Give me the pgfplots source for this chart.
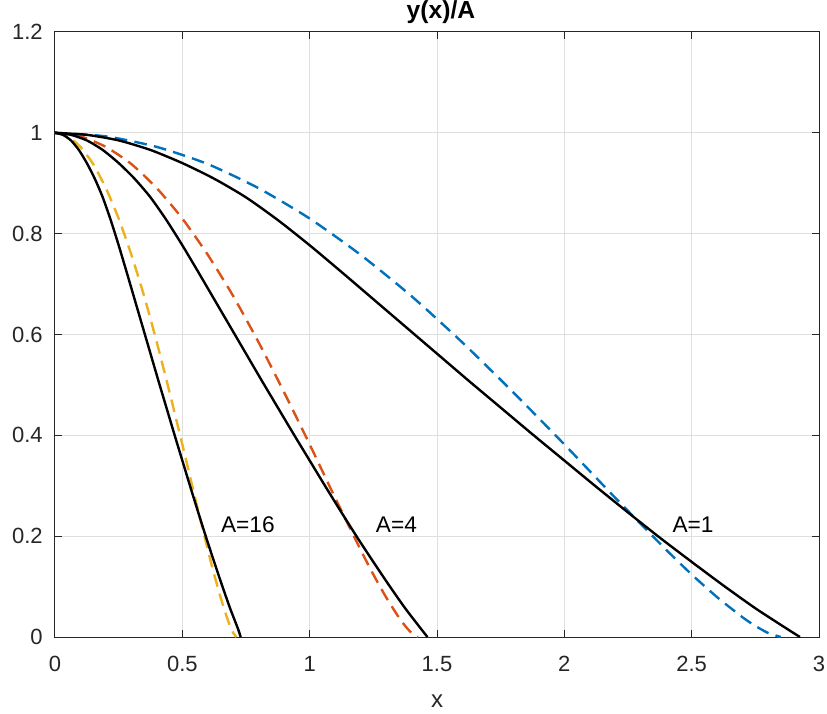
\documentclass[border=0pt]{standalone}
\usepackage{pgfplots}
\pgfplotsset{compat=1.18}
\usepackage{fontspec}
\setmainfont{Liberation Sans}
\definecolor{mblue}{RGB}{0,114,189}
\definecolor{mred}{RGB}{217,83,25}
\definecolor{myellow}{RGB}{237,177,32}
\definecolor{axgray}{RGB}{38,38,38}
\definecolor{gridgray}{RGB}{223,223,223}
\begin{document}
\begin{tikzpicture}
\begin{axis}[
  scale only axis, width=573pt, height=453.75pt,
  xmin=0, xmax=3, ymin=0, ymax=1.2,
  xtick={0,0.5,1,1.5,2,2.5,3}, ytick={0,0.2,0.4,0.6,0.8,1,1.2},
  xticklabels={0,0.5,1,1.5,2,2.5,3},
  yticklabels={0,0.2,0.4,0.6,0.8,1,1.2},
  /pgf/number format/assume math mode=true,
  grid=major, major grid style={gridgray, line width=0.75pt},
  axis line style={axgray, line width=0.75pt},
  tick style={axgray, line width=0.75pt},
  major tick length=5.5pt,
  tick align=inside,
  ticklabel style={font=\fontsize{16.5}{19}\selectfont, text=axgray},
  xticklabel style={anchor=north, inner sep=0pt, yshift=-14.25pt},
  yticklabel style={anchor=east, inner sep=0pt, xshift=-9pt},
  xlabel={x},
  xlabel style={at={(axis description cs:0.5,0)}, anchor=base, inner sep=0pt, yshift=-52.5pt, font=\fontsize{18}{21}\selectfont, text=axgray},
  title={\textbf{y(x)/A}},
  title style={at={(axis description cs:0.5,1)}, anchor=base, inner sep=0pt, yshift=3.8pt, xshift=3pt, font=\fontsize{18.5}{21}\selectfont, text=black},
  clip=true,
]
% dashed reference curves
\addplot[mblue, line width=1.8pt, dash pattern=on 9.5pt off 5.5pt, smooth, tension=0.4] coordinates {
(0,1) (0.2,0.993) (0.4,0.972) (0.6,0.938) (0.8,0.890) (1.0,0.830) (1.2,0.758) (1.4,0.676) (1.6,0.584) (1.8,0.485) (2.0,0.382) (2.2,0.276) (2.4,0.173) (2.5,0.124) (2.6,0.079) (2.7,0.039) (2.75,0.022) (2.8,0.008) (2.85,0)};
\addplot[mred, line width=1.8pt, dash pattern=on 9.5pt off 5.5pt, smooth, tension=0.4] coordinates {
(0,1) (0.1,0.993) (0.2,0.972) (0.3,0.938) (0.4,0.890) (0.5,0.830) (0.6,0.758) (0.7,0.676) (0.8,0.584) (0.9,0.485) (1.0,0.382) (1.1,0.276) (1.2,0.173) (1.25,0.124) (1.3,0.079) (1.35,0.039) (1.375,0.022) (1.4,0.008) (1.425,0)};
\addplot[myellow, line width=1.8pt, dash pattern=on 9.5pt off 5.5pt, smooth, tension=0.4] coordinates {
(0,1) (0.05,0.993) (0.1,0.972) (0.15,0.938) (0.2,0.890) (0.25,0.830) (0.3,0.758) (0.35,0.676) (0.4,0.584) (0.45,0.485) (0.5,0.382) (0.55,0.276) (0.6,0.173) (0.625,0.124) (0.65,0.079) (0.675,0.039) (0.6875,0.022) (0.7,0.008) (0.7125,0)};
% black curves
\addplot[black, line width=1.8pt, smooth, tension=0.4] coordinates {
(0,1) (0.125,0.996) (0.25,0.985) (0.375,0.966) (0.5,0.940) (0.625,0.909) (0.75,0.872) (0.875,0.827) (1.0,0.777) (1.125,0.724) (1.25,0.670) (1.375,0.616) (1.5,0.562) (1.625,0.508) (1.75,0.455) (1.875,0.402) (2.0,0.350) (2.125,0.298) (2.25,0.247) (2.375,0.197) (2.5,0.149) (2.625,0.102) (2.75,0.057) (2.875,0.016) (2.925,0)};
\addplot[black, line width=1.8pt, smooth, tension=0.4] coordinates {
(0,1) (0.0625,0.996) (0.125,0.985) (0.1875,0.966) (0.25,0.940) (0.3125,0.909) (0.375,0.872) (0.4375,0.827) (0.5,0.777) (0.5625,0.724) (0.625,0.670) (0.6875,0.616) (0.75,0.562) (0.8125,0.508) (0.875,0.455) (0.9375,0.402) (1.0,0.350) (1.0625,0.298) (1.125,0.247) (1.1875,0.197) (1.25,0.149) (1.3125,0.102) (1.375,0.057) (1.4375,0.016) (1.4625,0)};
\addplot[black, line width=1.8pt, smooth, tension=0.4] coordinates {
(0,1) (0.03125,0.996) (0.0625,0.985) (0.09375,0.966) (0.125,0.940) (0.15625,0.909) (0.1875,0.872) (0.21875,0.827) (0.25,0.777) (0.28125,0.724) (0.3125,0.670) (0.34375,0.616) (0.375,0.562) (0.40625,0.508) (0.4375,0.455) (0.46875,0.402) (0.5,0.350) (0.53125,0.298) (0.5625,0.247) (0.59375,0.197) (0.625,0.149) (0.65625,0.102) (0.6875,0.057) (0.71875,0.016) (0.729,0)};
\node[anchor=west, inner sep=0pt, font=\fontsize{17}{20}\selectfont] at (axis cs:0.651,0.222) {A=16};
\node[anchor=west, inner sep=0pt, font=\fontsize{17}{20}\selectfont] at (axis cs:1.259,0.222) {A=4};
\node[anchor=west, inner sep=0pt, font=\fontsize{17}{20}\selectfont] at (axis cs:2.424,0.222) {A=1};
\end{axis}
\pgfresetboundingbox
\useasboundingbox (-41.25pt,-57pt) rectangle (579pt,477.75pt);
\end{tikzpicture}
\end{document}
